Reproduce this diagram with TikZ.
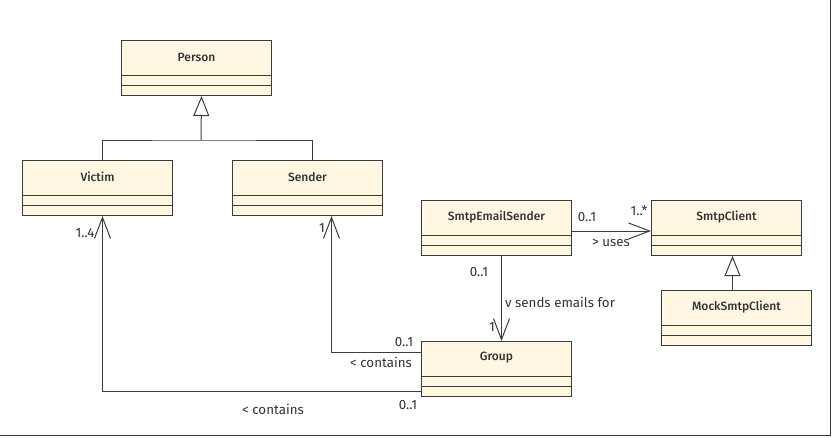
\documentclass[tikz,border=0pt]{standalone}
\usepackage{fontspec}
\setmainfont{Fira Sans}
\newfontfamily\namefont{Fira Sans}[UprightFont=* Medium]
\usetikzlibrary{arrows.meta,calc}
\definecolor{cream}{RGB}{255,247,226}
\definecolor{lc}{RGB}{60,60,60}
\definecolor{tc}{RGB}{50,50,50}
\tikzset{
  cls/.style={draw=lc, fill=cream, line width=0.75pt, minimum width=112.5pt, minimum height=41.25pt, anchor=north west, inner sep=0pt},
  clsname/.style={font=\namefont\fontsize{9pt}{11pt}\selectfont, text=tc, inner sep=0pt},
  lbl/.style={font=\fontsize{10pt}{12pt}\selectfont, text=tc, inner sep=0pt},
  conn/.style={draw=lc, line width=0.75pt},
  gen/.style={conn, -{Triangle[open, length=15pt, width=12pt]}},
  assoc/.style={conn, -{Straight Barb[length=15.75pt, width=12pt]}},
}
\newcommand{\umlclass}[4]{%
  \node[cls] (#1) at (#2,#3) {};
  \draw[lc, line width=0.75pt] ($(#1.north west)+(0,35)$) -- ($(#1.north east)+(0,35)$);
  \draw[lc, line width=0.75pt] ($(#1.north west)+(0,45)$) -- ($(#1.north east)+(0,45)$);
  \node[clsname] (#1-name) at ($(#1.north)+(0,17)$) {#4};
}
\begin{document}
\begin{tikzpicture}[x=0.75pt, y=-0.75pt]
\useasboundingbox (0,0) rectangle (832,437);
\draw[lc, line width=1pt] (0,435.5) -- (830.5,435.5) -- (830.5,0);
\umlclass{person}{121}{40}{Person}
\umlclass{victim}{22}{160}{Victim}
\umlclass{sender}{232}{160}{Sender}
\umlclass{smtps}{421}{200}{SmtpEmailSender}
\umlclass{smtpc}{651}{200}{SmtpClient}
\umlclass{mock}{661}{290}{MockSmtpClient}
\umlclass{group}{421}{341}{Group}
% generalization Victim/Sender -> Person
\coordinate (gj) at (201,140);
\draw[conn] ($(victim.north)+(5,0)$) |- (gj) -| ($(sender.north)+(5,0)$);
\draw[gen] (gj) -- ($(person.south)+(5,0)$);
% generalization Mock -> SmtpClient
\draw[gen] ($(mock.north)+(-4,0)$) -- ($(smtpc.south)+(6,0)$);
% uses
\draw[assoc] ($(smtps.north east)+(0,31)$) -- ($(smtpc.north west)+(0,31)$);
% sends emails for
\draw[assoc] ($(smtps.south)+(5,0)$) -- ($(group.north)+(5,0)$);
% group contains sender
\coordinate (gs) at ($(group.north west)+(0,11)$);
\draw[assoc] (gs) -| ($(sender.south)+(24,0)$);
% group contains victim
\coordinate (gv) at ($(group.north west)+(0,50)$);
\draw[assoc] (gv) -| ($(victim.south)+(5,0)$);
% labels
\node[lbl] (l1) at (85,233) {1..4};
\node[lbl] (l2) at (322,228) {1};
\node[lbl] (l3) at (404,342) {0..1};
\node[lbl] (l4) at (381,362) {< contains};
\node[lbl] (l5) at (408,405) {0..1};
\node[lbl] (l6) at (273,409) {< contains};
\node[lbl] (l7) at (587,217) {0..1};
\node[lbl] (l8) at (639,211) {1..*};
\node[lbl] (l9) at (611,243) {> uses};
\node[lbl] (l10) at (479,272) {0..1};
\node[lbl] (l11) at (560,302) {v sends emails for};
\node[lbl] (l12) at (492,327) {1};
\end{tikzpicture}
\end{document}
